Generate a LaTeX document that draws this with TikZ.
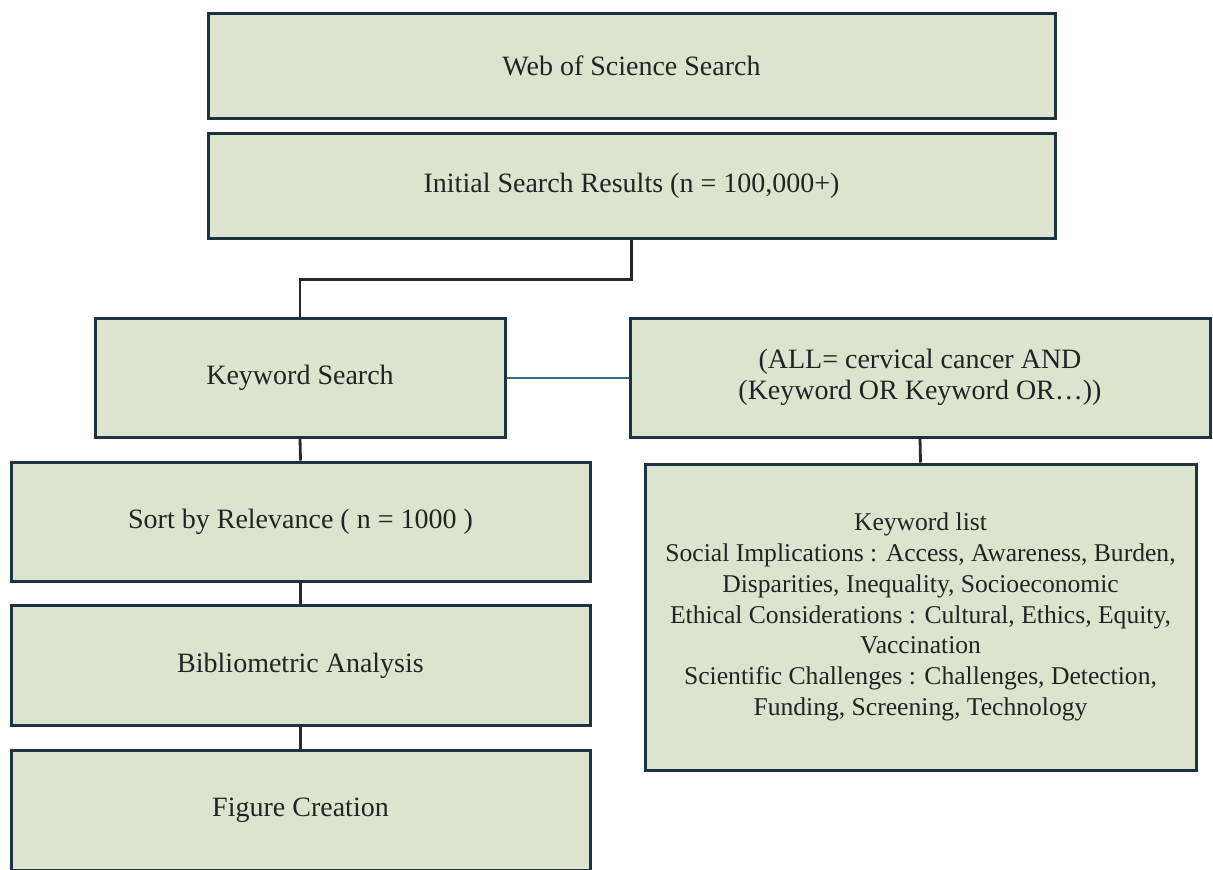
\documentclass[tikz,border=0pt]{standalone}
\usepackage{fontspec}
\setmainfont{Liberation Serif}
\definecolor{boxfill}{RGB}{220,228,208}
\definecolor{boxline}{RGB}{30,50,65}
\definecolor{conn}{RGB}{40,40,40}
\definecolor{blueconn}{RGB}{60,105,135}
\definecolor{txt}{RGB}{35,35,35}
\tikzset{
  box/.style={draw=boxline, fill=boxfill, line width=1.5pt, inner sep=0pt,
    align=center, text=txt, font=\fontsize{14}{15.5}\selectfont},
  link/.style={draw=conn, line width=1.4pt},
  bluelink/.style={draw=blueconn, line width=1pt}
}
\begin{document}
\begin{tikzpicture}[x=0.5pt, y=-0.5pt]
\useasboundingbox (0,0) rectangle (1213,869);
\clip (0,0) rectangle (1213,869);
\node[box, minimum width=847*0.5pt, minimum height=105*0.5pt] (web) at (631.5,65.5) {Web of Science Search};
\node[box, minimum width=847*0.5pt, minimum height=105*0.5pt] (init) at (631.5,185.5) {Initial Search Results (n = 100,000+)};
\node[box, minimum width=410*0.5pt, minimum height=119*0.5pt] (kw) at (300,377.5) {Keyword Search};
\node[box, minimum width=580*0.5pt, minimum height=119*0.5pt] (all) at (920,377.5) {(ALL= cervical cancer AND\\(Keyword OR Keyword OR\dots))};
\node[box, minimum width=579*0.5pt, minimum height=119*0.5pt] (sort) at (300.5,521.5) {Sort by Relevance ( n = 1000 )};
\node[box, minimum width=579*0.5pt, minimum height=120*0.5pt] (biblio) at (300.5,665.5) {Bibliometric Analysis};
\node[box, minimum width=579*0.5pt, minimum height=120*0.5pt] (fig) at (300.5,810) {Figure Creation};
\node[box, minimum width=551*0.5pt, minimum height=306*0.5pt, font=\fontsize{12.8}{15.4}\selectfont] (list) at (920.5,617) {Keyword list\\Social Implications : Access, Awareness, Burden,\\Disparities, Inequality, Socioeconomic\\Ethical Considerations : Cultural, Ethics, Equity,\\Vaccination\\Scientific Challenges : Challenges, Detection,\\Funding, Screening, Technology};
\draw[link] (init.south) -- ++(0,40) -| (kw.north);
\draw[bluelink] (kw.east) -- (all.west);
\draw[link] (kw.south) -- (sort.north);
\draw[link] (sort.south) -- (biblio.north);
\draw[link] (biblio.south) -- (fig.north);
\draw[link] (all.south) -- (list.north);
\end{tikzpicture}
\end{document}
